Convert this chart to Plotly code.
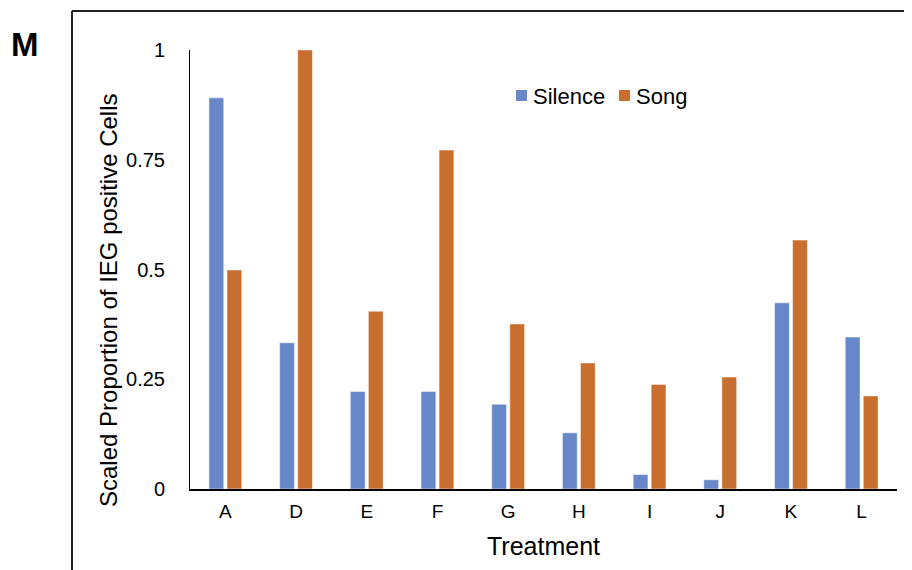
import plotly.graph_objects as go

categories = ["A", "D", "E", "F", "G", "H", "I", "J", "K", "L"]
silence = [0.891, 0.333, 0.222, 0.222, 0.193, 0.128, 0.033, 0.021, 0.424, 0.346]
song = [0.499, 1.0, 0.405, 0.772, 0.376, 0.287, 0.238, 0.255, 0.567, 0.212]
y_ticks = [0, 0.25, 0.5, 0.75, 1]
y_tick_labels = ["0", "0.25", "0.5", "0.75", "1"]
series_names = ["Silence", "Song"]

FONT = "Arial, Liberation Sans, sans-serif"
BLUE = "#6787C9"
ORANGE = "#C86F30"
colors = [BLUE, ORANGE]

fig = go.Figure()
for name, vals, col in zip(series_names, [silence, song], colors):
    fig.add_trace(go.Bar(x=categories, y=vals, name=name,
                         marker=dict(color=col, line=dict(color="rgba(255,255,255,0.6)", width=0.8))))

# page has 8px body margin: figure is 904x562 placed at (8, 8)
fig.update_layout(
    width=904, height=562,
    margin=dict(l=182, r=15, t=42, b=81),
    paper_bgcolor="white", plot_bgcolor="white",
    font=dict(family=FONT, color="black"),
    barmode="group", bargap=0.49, bargroupgap=0.18,
    showlegend=False,
    xaxis=dict(showline=True, linecolor="black", linewidth=1.5, ticks="",
               tickfont=dict(size=19), showgrid=False, zeroline=False,
               ticklabelstandoff=4,
               title=dict(text="Treatment", font=dict(size=25), standoff=17)),
    yaxis=dict(range=[0, 1], tickvals=y_ticks, ticktext=y_tick_labels,
               showline=True, linecolor="black", linewidth=1, ticks="",
               tickfont=dict(size=20), showgrid=False, zeroline=False,
               ticklabelstandoff=20),
)


def px_x(x):
    return (x - 190) / 707


def px_y(y):
    return (489 - y) / 439


fig.add_annotation(text="Scaled Proportion of IEG positive Cells", textangle=-90,
                   xref="paper", yref="paper", x=px_x(108), y=px_y(300),
                   showarrow=False, xanchor="center", yanchor="middle",
                   font=dict(size=24, family=FONT, color="black"))

# Manual legend
legend_sq_x = [516, 619]
for name, col, sx in zip(series_names, colors, legend_sq_x):
    fig.add_shape(type="rect", xref="paper", yref="paper",
                  x0=px_x(sx), x1=px_x(sx + 11), y0=px_y(101), y1=px_y(90),
                  fillcolor=col, line=dict(width=0))
    fig.add_annotation(text=name, xref="paper", yref="paper", x=px_x(sx + 15), y=px_y(96),
                       showarrow=False, xanchor="left", yanchor="middle",
                       font=dict(size=22, family=FONT, color="black"))

# Panel frame (top and left edges visible)
fig.add_shape(type="line", xref="paper", yref="paper", x0=px_x(72), x1=1.1, y0=px_y(11), y1=px_y(11),
              line=dict(color="#222222", width=2))
fig.add_shape(type="line", xref="paper", yref="paper", x0=px_x(72), x1=px_x(72), y0=px_y(11), y1=-0.3,
              line=dict(color="#222222", width=2))

fig.add_annotation(text="<b>M</b>", xref="paper", yref="paper",
                   x=px_x(25), y=px_y(45), showarrow=False,
                   font=dict(size=33, family=FONT, color="black"), xanchor="center", yanchor="middle")

fig.write_html("out.html")
